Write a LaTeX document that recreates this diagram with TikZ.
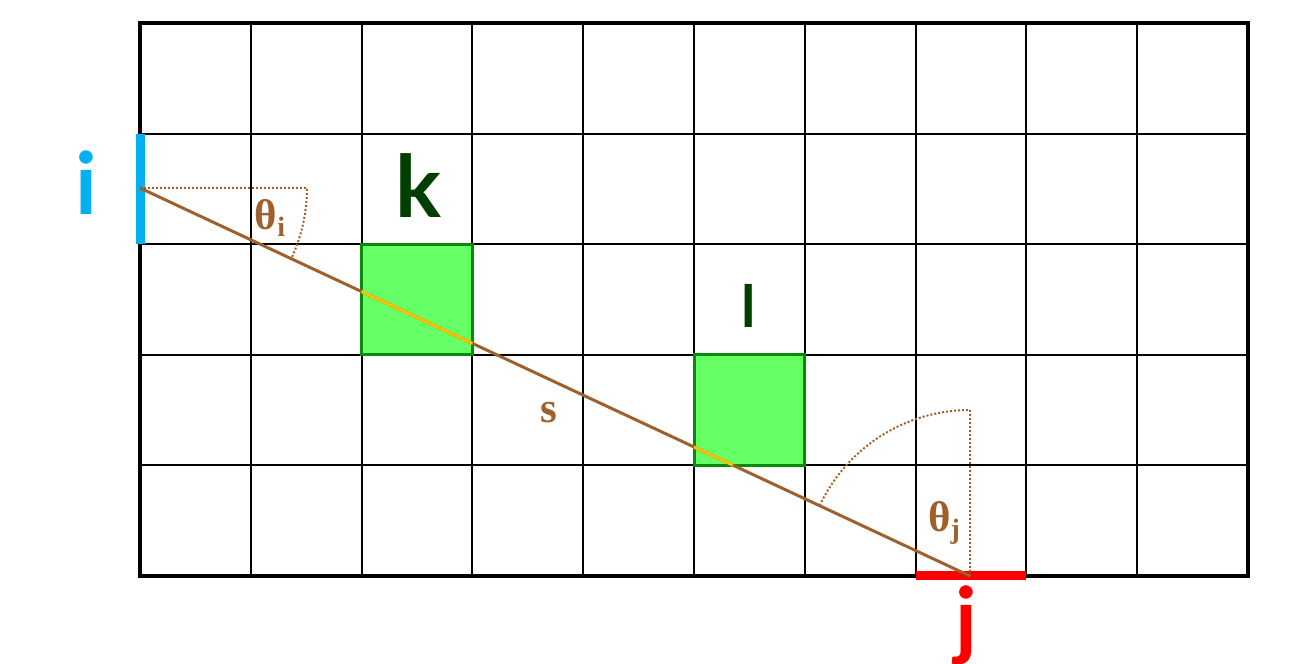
\documentclass[tikz,border=0pt]{standalone}
\usepackage{fontspec}
\usetikzlibrary{calc}
\setmainfont{Liberation Serif}
\newfontfamily\lblfont{Lato}
\definecolor{cyanbar}{HTML}{00B0F0}
\definecolor{brownline}{HTML}{A0602D}
\definecolor{greenfill}{HTML}{66FF66}
\definecolor{greenedge}{HTML}{0A8A0A}
\definecolor{darkgreen}{HTML}{003F00}
\definecolor{yellowseg}{HTML}{FFC000}
\newcommand{\subtxt}[1]{\raisebox{-7pt}{\fontsize{28}{30}\selectfont #1}}
\tikzset{
  gridline/.style={line width=2pt, black},
  cellbox/.style={draw=greenedge, fill=greenfill, line width=3pt},
  ray/.style={brownline, line width=3pt},
  raypart/.style={yellowseg, line width=3pt},
  anglemark/.style={brownline, line width=2pt, dotted},
  biglabel/.style={font=\lblfont\bfseries\fontsize{86}{90}\selectfont, anchor=base, inner sep=0pt},
  anglelabel/.style={text=brownline, font=\bfseries\fontsize{43}{46}\selectfont, anchor=base, inner sep=0pt}
}
\begin{document}
\begin{tikzpicture}[x=1pt,y=1pt]
\useasboundingbox (0,0) rectangle (1294,664);
% green cells
\path[cellbox] (361.6,419.8) rectangle (472.4,309.2);
\path[cellbox] (694,309.2) rectangle (804.8,198.6);
% grid
\foreach \c in {250.8,361.6,472.4,583.2,694,804.8,915.6,1026.4,1137.2}
  \draw[gridline] (\c,88) -- (\c,641);
\foreach \r in {530.4,419.8,309.2,198.6}
  \draw[gridline] (140,\r) -- (1248,\r);
\draw[black, line width=4pt] (140,88) rectangle (1248,641);
% redraw cell edges over grid
\draw[greenedge, line width=3pt] (361.6,419.8) rectangle (472.4,309.2);
\draw[greenedge, line width=3pt] (694,309.2) rectangle (804.8,198.6);
% source and detector bars
\draw[cyanbar, line width=9pt] (140,530.4) -- (140,419.8);
\draw[red, line width=9pt] (915.6,88) -- (1026.4,88);
% points
\coordinate (i) at (140,476);
\coordinate (j) at (970,88);
% ray
\draw[ray] (i) -- (j);
% segments inside cells
\draw[raypart] ($(i)!{(361.6-140)/830}!(j)$) -- ($(i)!{(472.4-140)/830}!(j)$);
\draw[raypart] ($(i)!{(694-140)/830}!(j)$) -- ($(i)!{(732.7-140)/830}!(j)$);
% angle marks
\draw[anglemark] (i) -- ++(167,0) arc[start angle=0, end angle=-25.05, radius=167];
\draw[anglemark] (j) -- ++(0,166) arc[start angle=90, end angle=154.95, radius=166];
% labels
\node[biglabel, text=cyanbar] (li) at (86,449) {i};
\node[biglabel, text=red] (lj) at (966,14) {j};
\node[biglabel, text=darkgreen] (lk) at (418,446) {k};
\node[biglabel, text=darkgreen, font=\lblfont\bfseries\fontsize{58}{60}\selectfont] (ll) at (749,336) {l};
\node[anglelabel] (ls) at (549,241) {s};
\node[anglelabel] (ti) at (270,434) {θ\subtxt{i}};
\node[anglelabel] (tj) at (944,132) {θ\subtxt{j}};
\end{tikzpicture}
\end{document}
